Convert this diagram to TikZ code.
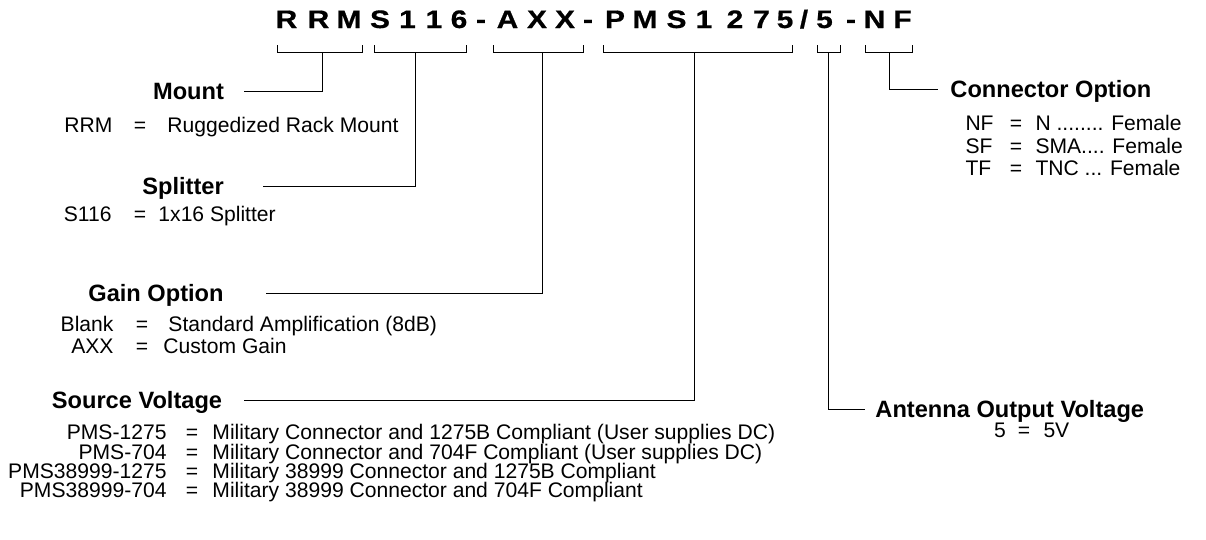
\documentclass[tikz,border=0pt]{standalone}
\usepackage{fontspec}
\usepackage{graphicx}
\setmainfont{Liberation Sans}
\newfontfamily\codefont[FakeBold=0.6]{Liberation Sans}
\newcommand\ancholetra[1]{\scalebox{1.18}[1]{#1}}
\usetikzlibrary{calc}
\begin{document}
\begin{tikzpicture}[x=0.025cm, y=-0.025cm, line width=0.7pt,
    codigo/.style={font=\codefont\bfseries\fontsize{18}{21}\selectfont, anchor=base, inner sep=0pt},
    titulo/.style={font=\bfseries\fontsize{16.8}{20}\selectfont, text height=12pt, text depth=0pt, inner sep=0pt},
    texto/.style={font=\fontsize{15}{18}\selectfont, text height=10.7pt, text depth=0pt, inner sep=0pt}]
    \useasboundingbox (0,0) rectangle (1206,540);

    % Codigo del producto, letra por letra
    \foreach \ch/\x [count=\i] in {R/286.5, R/318.5, M/349, S/380, 1/407.5, 1/434, 6/459, -/481,
        A/507.5, X/537, X/565, -/588, P/615, M/645, S/676.5, 1/704, 2/735, 7/761.5, 5/785,
        {/}/804, 5/824.5, -/851, N/874.5, F/902.5}
        \node[codigo] (c\i) at (\x,28) {\ancholetra{\ch}};

    % Corchetes bajo cada grupo
    \draw (277,45) -- (277,52) -- (362,52) -- (362,45);
    \draw (374,45) -- (374,52) -- (466,52) -- (466,45);
    \draw (493,45) -- (493,52) -- (583,52) -- (583,45);
    \draw (603,45) -- (603,52) -- (792,52) -- (792,45);
    \draw (817,45) -- (817,52) -- (840,52) -- (840,45);
    \draw (865,45) -- (865,52) -- (912,52) -- (912,45);
    \coordinate (mnt) at (322,52);
    \coordinate (spl) at (415,52);
    \coordinate (gan) at (542,52);
    \coordinate (src) at (694,52);
    \coordinate (ant) at (828,52);
    \coordinate (con) at (889,52);

    % Montaje
    \node[titulo] (mount) at (188.5,91) {Mount};
    \draw (mnt) |- ($(mount.east)+(20,0)$);
    \node[texto, anchor=east] (rrm) at (113,125) {RRM};
    \node[texto] (eq1) at (140,125) {=};
    \node[texto, anchor=west] (rrmdef) at (167,125) {Ruggedized Rack Mount};

    % Divisor
    \node[titulo] (splitter) at (183,186) {Splitter};
    \draw (spl) |- ($(splitter.east)+(39,0)$);
    \node[texto, anchor=east] (s116) at (112,214) {S116};
    \node[texto] (eq2) at (140,214) {=};
    \node[texto, anchor=west] (s116def) at (158,214) {1x16 Splitter};

    % Ganancia
    \node[titulo] (gain) at (156,293) {Gain Option};
    \draw (gan) |- ($(gain.east)+(42,0)$);
    \node[texto, anchor=east] (blank) at (114,324) {Blank};
    \node[texto] (eq3) at (142,324) {=};
    \node[texto, anchor=west] (blankdef) at (168,324) {Standard Amplification (8dB)};
    \node[texto, anchor=east] (axx) at (114,346) {AXX};
    \node[texto] (eq4) at (142,346) {=};
    \node[texto, anchor=west] (axxdef) at (163,346) {Custom Gain};

    % Tension de fuente
    \node[titulo] (source) at (137,400) {Source Voltage};
    \draw (src) |- ($(source.east)+(21,0)$);
    \node[texto, anchor=east] (pms1) at (167,432) {PMS-1275};
    \node[texto] (eq5) at (192,432) {=};
    \node[texto, anchor=west] (pms1def) at (212,432) {Military Connector and 1275B Compliant (User supplies DC)};
    \node[texto, anchor=east] (pms2) at (167,451.5) {PMS-704};
    \node[texto] (eq6) at (192,451.5) {=};
    \node[texto, anchor=west] (pms2def) at (212,451.5) {Military Connector and 704F Compliant (User supplies DC)};
    \node[texto, anchor=east] (pms3) at (167,471) {PMS38999-1275};
    \node[texto] (eq7) at (192,471) {=};
    \node[texto, anchor=west] (pms3def) at (212,471) {Military 38999 Connector and 1275B Compliant};
    \node[texto, anchor=east] (pms4) at (167,490) {PMS38999-704};
    \node[texto] (eq8) at (192,490) {=};
    \node[texto, anchor=west] (pms4def) at (212,490) {Military 38999 Connector and 704F Compliant};

    % Tension de salida de antena
    \node[titulo, anchor=west] (antenna) at (875,409) {Antenna Output Voltage};
    \draw (ant) |- ($(antenna.west)+(-10,0)$);
    \node[texto] (v5) at (1000,430) {5};
    \node[texto] (eq9) at (1024,430) {=};
    \node[texto, anchor=west] (v5def) at (1043,430) {5V};

    % Conector
    \node[titulo, anchor=west] (conn) at (950,89) {Connector Option};
    \draw (con) |- ($(conn.west)+(-12,0)$);
    \node[texto, anchor=west] (nf) at (965,123) {NF};
    \node[texto] (eq10) at (1016,123) {=};
    \node[texto, anchor=west] (nfdef) at (1035,123) {N ........ Female};
    \node[texto, anchor=west] (sf) at (965,146) {SF};
    \node[texto] (eq11) at (1016,146) {=};
    \node[texto, anchor=west] (sfdef) at (1035,146) {SMA.... Female};
    \node[texto, anchor=west] (tf) at (965,168) {TF};
    \node[texto] (eq12) at (1016,168) {=};
    \node[texto, anchor=west] (tfdef) at (1035,168) {TNC ... Female};
\end{tikzpicture}
\end{document}
